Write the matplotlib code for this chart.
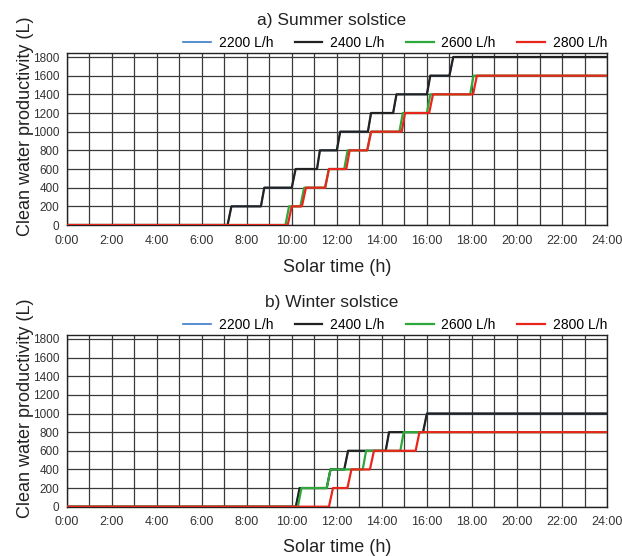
import matplotlib.pyplot as plt
from matplotlib.ticker import MultipleLocator

plt.rcParams['font.family'] = ['Liberation Sans', 'DejaVu Sans']

# tick positions / labels (hours)
hour_ticks = [0, 2, 4, 6, 8, 10, 12, 14, 16, 18, 20, 22, 24]
summer_xlabels = ['0:00', '2:00', '4:00', '6:00', '8:00', '10:00', '12:00',
                  '14:00', '16:00', '18:00', '20:00', '22:00', '24:00']
winter_xlabels = ['0:00', '2:00', '4:00', '6:00', '8:00', '10:00', '12:00',
                  '14:00', '16:00', '18.00', '20:00', '22:00', '24:00']
y_ticks = [0, 200, 400, 600, 800, 1000, 1200, 1400, 1600, 1800]

flow_names = ['2200 L/h', '2400 L/h', '2600 L/h', '2800 L/h']
flow_colors = ['#3b7cc8', '#222222', '#2ea83a', '#e8261c']

# a) summer solstice - cumulative clean water (L) vs solar time (h)
summer_t_2400 = [0, 7.15, 7.32, 8.63, 8.78, 10.0, 10.17, 11.12, 11.25, 12.0, 12.15,
                 13.38, 13.52, 14.5, 14.65, 16.0, 16.15, 17.0, 17.17, 24]
summer_v_2400 = [0, 0, 200, 200, 400, 400, 600, 600, 800, 800, 1000,
                 1000, 1200, 1200, 1400, 1400, 1600, 1600, 1800, 1800]
summer_t_2600 = [0, 9.72, 9.88, 10.38, 10.55, 11.48, 11.65, 12.33, 12.48, 13.35, 13.52,
                 14.78, 14.93, 16.0, 16.15, 17.92, 18.07, 24]
summer_v_2600 = [0, 0, 200, 200, 400, 400, 600, 600, 800, 800, 1000,
                 1000, 1200, 1200, 1400, 1400, 1600, 1600]
summer_t_2800 = [0, 9.82, 10.0, 10.45, 10.63, 11.48, 11.65, 12.42, 12.57, 13.35, 13.52,
                 14.88, 15.03, 16.1, 16.27, 18.05, 18.22, 24]
summer_v_2800 = [0, 0, 200, 200, 400, 400, 600, 600, 800, 800, 1000,
                 1000, 1200, 1200, 1400, 1400, 1600, 1600]
# 2200 L/h curve lies under the 2400 L/h one
summer_t_2200 = summer_t_2400
summer_v_2200 = summer_v_2400

# b) winter solstice
winter_t_2400 = [0, 10.18, 10.35, 11.55, 11.72, 12.33, 12.5, 14.17, 14.32,
                 15.83, 16.0, 24]
winter_v_2400 = [0, 0, 200, 200, 400, 400, 600, 600, 800, 800, 1000, 1000]
winter_t_2600 = [0, 10.27, 10.43, 11.55, 11.72, 13.15, 13.3, 14.82, 14.97, 24]
winter_v_2600 = [0, 0, 200, 200, 400, 400, 600, 600, 800, 800]
winter_t_2800 = [0, 11.65, 11.83, 12.47, 12.65, 13.47, 13.65, 15.5, 15.67, 24]
winter_v_2800 = [0, 0, 200, 200, 400, 400, 600, 600, 800, 800]
winter_t_2200 = winter_t_2400
winter_v_2200 = winter_v_2400


def draw(ax, title, series, xlabels, xlab_y):
    widths = [1.2, 1.6, 1.6, 1.6]
    for (t, v), name, col, w in zip(series, flow_names, flow_colors, widths):
        ax.plot(t, v, color=col, lw=w, label=name, zorder=3)
    ax.set_xlim(0, 24)
    ax.set_ylim(0, 1843)
    ax.set_xticks(hour_ticks)
    ax.set_xticklabels(xlabels)
    ax.xaxis.set_minor_locator(MultipleLocator(1))
    ax.set_yticks(y_ticks)
    ax.grid(True, which='both', color='#3a3a3a', lw=0.9)
    ax.set_axisbelow(True)
    ax.tick_params(which='both', length=0)
    ax.tick_params(axis='x', labelsize=9, pad=7, colors='#333333')
    ax.tick_params(axis='y', labelsize=8.5, pad=5, colors='#333333')
    for s in ax.spines.values():
        s.set_color('#222222')
        s.set_linewidth(1.0)
    ax.set_xlabel('Solar time (h)', fontsize=13, color='#222222')
    ax.xaxis.set_label_coords(0.5, xlab_y)
    ax.set_ylabel('Clean water productivity (L)', fontsize=13, color='#222222')
    ax.yaxis.set_label_coords(-0.06, 0.575)
    ax.text(0.49, 1.19, title, transform=ax.transAxes, ha='center', va='center',
            fontsize=12.5, color='#222222')
    ax.legend(loc='center right', bbox_to_anchor=(1.0, 1.058), ncol=4,
              frameon=False, fontsize=10, handlelength=2.0, handletextpad=0.55,
              columnspacing=1.55, borderpad=0, borderaxespad=0)


fig = plt.figure(figsize=(6.22, 5.56), dpi=100)
ax1 = fig.add_axes([0.107, 0.5953, 0.869, 0.3094])
ax2 = fig.add_axes([0.107, 0.0887, 0.869, 0.3088])

draw(ax1, 'a) Summer solstice',
     [(summer_t_2200, summer_v_2200), (summer_t_2400, summer_v_2400),
      (summer_t_2600, summer_v_2600), (summer_t_2800, summer_v_2800)],
     summer_xlabels, -0.195)
draw(ax2, 'b) Winter solstice',
     [(winter_t_2200, winter_v_2200), (winter_t_2400, winter_v_2400),
      (winter_t_2600, winter_v_2600), (winter_t_2800, winter_v_2800)],
     winter_xlabels, -0.19)

fig.savefig('out.png', dpi=100)
